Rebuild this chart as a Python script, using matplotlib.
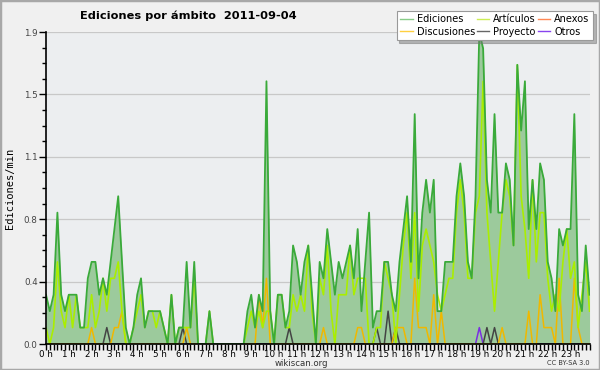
import numpy as np
from matplotlib import pyplot as plt
from matplotlib.lines import Line2D
from matplotlib.patches import Rectangle

# edits per minute, one value per 10 minutes (144 slots)
ediciones = [
    0.3, 0.2, 0.3, 0.8, 0.3, 0.2,
    0.3, 0.3, 0.3, 0.1, 0.1, 0.4,
    0.5, 0.5, 0.3, 0.4, 0.3, 0.5,
    0.7, 0.9, 0.5, 0.1, 0.0, 0.1,
    0.3, 0.4, 0.1, 0.2, 0.2, 0.2,
    0.2, 0.1, 0.0, 0.3, 0.0, 0.1,
    0.1, 0.5, 0.1, 0.5, 0.0, 0.0,
    0.0, 0.2, 0.0, 0.0, 0.0, 0.0,
    0.0, 0.0, 0.0, 0.0, 0.0, 0.2,
    0.3, 0.1, 0.3, 0.2, 1.6, 0.2,
    0.0, 0.3, 0.3, 0.1, 0.2, 0.6,
    0.5, 0.3, 0.5, 0.6, 0.3, 0.0,
    0.5, 0.4, 0.7, 0.5, 0.3, 0.5,
    0.4, 0.5, 0.6, 0.4, 0.7, 0.2,
    0.5, 0.8, 0.1, 0.2, 0.2, 0.5,
    0.5, 0.3, 0.2, 0.5, 0.7, 0.9,
    0.5, 1.4, 0.4, 0.8, 1.0, 0.8,
    1.0, 0.2, 0.2, 0.5, 0.5, 0.5,
    0.9, 1.1, 0.9, 0.5, 0.4, 0.9,
    1.9, 1.8, 1.0, 0.8, 1.4, 0.8,
    0.8, 1.1, 1.0, 0.6, 1.7, 1.3,
    1.6, 0.7, 1.0, 0.7, 1.1, 1.0,
    0.5, 0.4, 0.2, 0.7, 0.6, 0.7,
    0.7, 1.4, 0.3, 0.2, 0.6, 0.3,
]
articulos = [
    0.1, 0.0, 0.1, 0.5, 0.2, 0.1,
    0.3, 0.1, 0.3, 0.1, 0.1, 0.1,
    0.3, 0.1, 0.2, 0.4, 0.2, 0.4,
    0.4, 0.5, 0.2, 0.0, 0.0, 0.1,
    0.2, 0.3, 0.1, 0.2, 0.2, 0.1,
    0.2, 0.1, 0.0, 0.3, 0.0, 0.1,
    0.1, 0.1, 0.1, 0.4, 0.0, 0.0,
    0.0, 0.2, 0.0, 0.0, 0.0, 0.0,
    0.0, 0.0, 0.0, 0.0, 0.0, 0.1,
    0.2, 0.1, 0.2, 0.1, 0.2, 0.2,
    0.0, 0.3, 0.3, 0.1, 0.1, 0.3,
    0.2, 0.3, 0.2, 0.6, 0.2, 0.0,
    0.4, 0.3, 0.6, 0.2, 0.0, 0.3,
    0.3, 0.3, 0.6, 0.3, 0.4, 0.4,
    0.4, 0.0, 0.0, 0.1, 0.1, 0.5,
    0.4, 0.3, 0.0, 0.3, 0.6, 0.8,
    0.4, 0.8, 0.2, 0.6, 0.7, 0.6,
    0.5, 0.3, 0.2, 0.3, 0.4, 0.4,
    0.8, 1.0, 0.8, 0.4, 0.4, 0.8,
    0.9, 1.6, 0.8, 0.5, 0.2, 0.5,
    0.8, 1.0, 0.9, 0.6, 1.7, 0.9,
    0.7, 0.4, 1.0, 0.5, 0.8, 0.8,
    0.4, 0.2, 0.3, 0.2, 0.5, 0.7,
    0.4, 0.5, 0.1, 0.3, 0.5, 0.2,
]
discusiones = [
    0.0, 0.0, 0.0, 0.0, 0.0, 0.0,
    0.0, 0.0, 0.0, 0.0, 0.0, 0.0,
    0.1, 0.0, 0.0, 0.0, 0.0, 0.0,
    0.1, 0.1, 0.2, 0.0, 0.0, 0.0,
    0.0, 0.0, 0.0, 0.0, 0.0, 0.0,
    0.0, 0.0, 0.0, 0.0, 0.0, 0.0,
    0.0, 0.1, 0.0, 0.0, 0.0, 0.0,
    0.0, 0.0, 0.0, 0.0, 0.0, 0.0,
    0.0, 0.0, 0.0, 0.0, 0.0, 0.0,
    0.0, 0.0, 0.3, 0.1, 0.4, 0.0,
    0.0, 0.0, 0.0, 0.0, 0.0, 0.0,
    0.0, 0.0, 0.0, 0.0, 0.0, 0.0,
    0.0, 0.1, 0.0, 0.0, 0.0, 0.0,
    0.0, 0.0, 0.0, 0.0, 0.1, 0.1,
    0.0, 0.0, 0.0, 0.0, 0.0, 0.0,
    0.0, 0.0, 0.1, 0.1, 0.1, 0.0,
    0.0, 0.4, 0.1, 0.1, 0.1, 0.0,
    0.3, 0.0, 0.2, 0.0, 0.0, 0.0,
    0.0, 0.0, 0.0, 0.0, 0.0, 0.0,
    0.0, 0.0, 0.0, 0.0, 0.0, 0.0,
    0.1, 0.0, 0.0, 0.0, 0.0, 0.0,
    0.0, 0.2, 0.0, 0.0, 0.3, 0.1,
    0.1, 0.1, 0.0, 0.4, 0.0, 0.0,
    0.0, 0.4, 0.1, 0.0, 0.0, 0.0,
]
proyecto = [0.0] * 144
for i, v in [(16, 0.1), (36, 0.1), (64, 0.1), (87, 0.1), (90, 0.2),
             (92, 0.1), (116, 0.1), (118, 0.1)]:
    proyecto[i] = v
otros = [0.0] * 144
otros[114] = 0.1
anexos = [0.0] * 144

hours = [f"{h} h" for h in range(24)]
y_ticks = [0.0, 0.38, 0.76, 1.14, 1.52, 1.9]
y_labels = ["0.0", "0.4", "0.8", "1.1", "1.5", "1.9"]

x = np.arange(len(ediciones)) / 6.0

fig = plt.figure(figsize=(6, 3.7), dpi=100, facecolor='#f0f0f0')
fig.patches.append(Rectangle((0, 0), 1, 1, transform=fig.transFigure, fill=False,
                             edgecolor='#a8a8a8', linewidth=2.5))
ax = fig.add_axes([46 / 600, 1 - 344 / 370, 544 / 600, 312 / 370])
ax.set_facecolor('#eceef0')

ax.fill_between(x, ediciones, color='#9cca9c', linewidth=0, zorder=2)
ax.plot(x, anexos, color='#ff7744', lw=1.1, zorder=3)
ax.plot(x, otros, color='#7a30e0', lw=1.1, zorder=3)
ax.plot(x, proyecto, color='#444444', lw=1.1, zorder=3)
ax.plot(x, discusiones, color='#f0b800', lw=1.1, zorder=4)
ax.plot(x, articulos, color='#aaee00', lw=1.2, zorder=5)
ax.plot(x, ediciones, color='#3aaa3a', lw=1.3, zorder=6)

ax.set_xlim(0, x[-1] + 0.02)
ax.set_ylim(0, 1.9)
ax.set_xticks(range(24))
ax.set_xticklabels(hours, fontsize=6.3)
ax.set_xticks(np.arange(0, 24, 1 / 6), minor=True)
ax.set_yticks(y_ticks)
ax.set_yticklabels(y_labels, fontsize=6.3, color='#444444')
ax.set_yticks(np.arange(0, 1.9, 0.095), minor=True)
ax.tick_params(axis='x', which='both', length=4, width=1, pad=0.5)
ax.tick_params(axis='y', which='major', length=5, width=1, pad=1)
ax.tick_params(axis='y', which='minor', length=3, width=1)
ax.grid(axis='y', color='#c8c8c8', linewidth=0.9)
ax.set_axisbelow(True)
for side in ['top', 'right']:
    ax.spines[side].set_visible(False)
for side in ['left', 'bottom']:
    ax.spines[side].set_linewidth(1.2)
    ax.spines[side].set_zorder(10)

fig.text(188 / 600, 1 - 16 / 370, 'Ediciones por ámbito  2011-09-04',
         fontsize=8.2, fontweight='bold', ha='center', va='center')
fig.text(10 / 600, 1 - 188 / 370, 'Ediciones/min', rotation=90, fontsize=7.5,
         family='DejaVu Sans Mono', ha='center', va='center')
fig.text(301 / 600, 1 - 363 / 370, 'wikiscan.org', fontsize=6.2,
         color='#333333', ha='center', va='center')
fig.text(590 / 600, 1 - 363 / 370, 'CC BY-SA 3.0', fontsize=4.8,
         color='#333333', ha='right', va='center')

names = ['Ediciones', 'Discusiones', 'Artículos', 'Proyecto', 'Anexos', 'Otros']
colors = ['#88cc88', '#ffd040', '#ccee55', '#666666', '#ff8855', '#8844ee']
handles = [Line2D([], [], color=c, lw=1) for c in colors]
leg = fig.legend(handles, names, ncol=3, loc='upper right',
                 bbox_to_anchor=(593 / 600, 1 - 11 / 370), fontsize=7,
                 frameon=True, fancybox=False, shadow={'color': '#777777'},
                 handlelength=1.3, handletextpad=0.4, columnspacing=0.2,
                 labelspacing=0.25, borderpad=0.35, borderaxespad=0)
leg.get_frame().set_edgecolor('#999999')
leg.get_frame().set_linewidth(0.8)

fig.savefig('out.png', dpi=100, facecolor=fig.get_facecolor())
